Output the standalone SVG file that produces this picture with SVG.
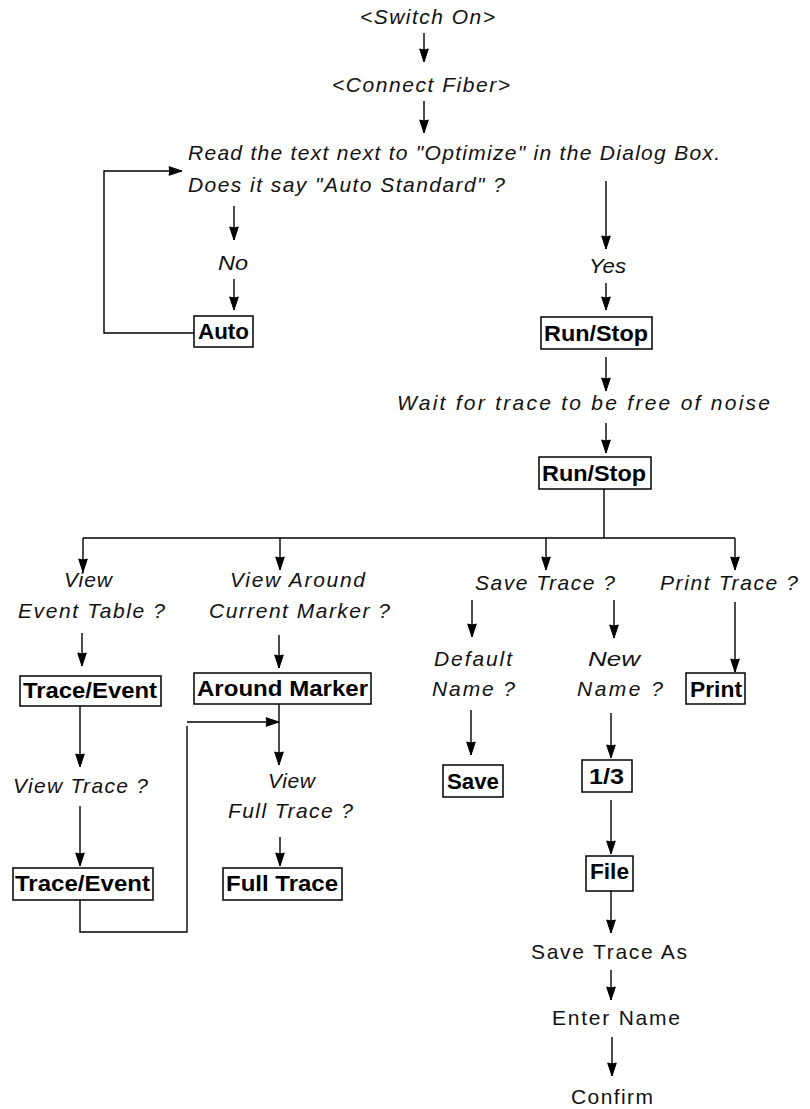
<svg xmlns="http://www.w3.org/2000/svg" width="810" height="1109" viewBox="0 0 810 1109">
<style>
.it{font-family:"Liberation Sans",Arial,sans-serif;font-style:italic;font-size:21px;fill:#111}
.up{font-family:"Liberation Sans",Arial,sans-serif;font-size:21px;fill:#111}
.bx{font-family:"Liberation Sans",Arial,sans-serif;font-weight:bold;font-size:22px;fill:#000}
.box{fill:#fff;stroke:#000;stroke-width:1.5}
.c{fill:none;stroke:#000;stroke-width:1.4}
.a{marker-end:url(#ah)}
</style>
<defs>
<marker id="ah" markerUnits="userSpaceOnUse" markerWidth="18" markerHeight="16" viewBox="-16 -8 18 16" refX="0" refY="0" orient="auto">
<path d="M0,0 L-13,-4.3 L-12,0 L-13,4.3 z" fill="#000" stroke="#000" stroke-width="1" stroke-linejoin="miter"/>
</marker>
</defs>
<rect width="810" height="1109" fill="#fff"/>
<g id="connectors">
<path class="c a" d="M424,33 V62"/>
<path class="c a" d="M424,101 V133"/>
<path class="c a" d="M194,333 H104 V171 H182"/>
<path class="c a" d="M234,206 V240"/>
<path class="c a" d="M234,279 V310"/>
<path class="c a" d="M606,181 V249"/>
<path class="c a" d="M606,283 V310"/>
<path class="c a" d="M606,357 V391"/>
<path class="c a" d="M606,423 V453"/>
<path class="c" d="M604,489 V538 M83,538 H735"/>
<path class="c a" d="M83,538 V572"/>
<path class="c a" d="M280,538 V570"/>
<path class="c a" d="M546,538 V570"/>
<path class="c a" d="M735,538 V570"/>
<path class="c a" d="M82,633 V666"/>
<path class="c a" d="M279,635 V668"/>
<path class="c a" d="M80,706 V767"/>
<path class="c a" d="M80,806 V866"/>
<path class="c" d="M80,900 V932 H187 V726"/>
<path class="c a" d="M187,722 H279"/>
<path class="c a" d="M279,704 V765"/>
<path class="c a" d="M280,837 V866"/>
<path class="c a" d="M472,600 V637"/>
<path class="c a" d="M614,600 V638"/>
<path class="c a" d="M735,602 V672"/>
<path class="c a" d="M471,710 V755"/>
<path class="c a" d="M611,713 V758"/>
<path class="c a" d="M611,800 V854"/>
<path class="c a" d="M611,891 V933"/>
<path class="c a" d="M611,970 V1000"/>
<path class="c a" d="M612,1037 V1076"/>
</g>
<g id="switch-on"><text class="it" x="360" y="24" textLength="135" lengthAdjust="spacing">&lt;Switch On&gt;</text></g>
<g id="connect-fiber"><text class="it" x="332" y="92" textLength="178" lengthAdjust="spacing">&lt;Connect Fiber&gt;</text></g>
<g id="read-text">
<text class="it" x="188" y="160" textLength="532" lengthAdjust="spacing">Read the text next to "Optimize" in the Dialog Box.</text>
<text class="it" x="188" y="192" textLength="317" lengthAdjust="spacing">Does it say "Auto Standard" ?</text>
</g>
<g id="no"><text class="it" x="218" y="270" textLength="30" lengthAdjust="spacingAndGlyphs">No</text></g>
<g id="auto"><rect class="box" x="194" y="316" width="59" height="31"/><text class="bx" x="198" y="339" textLength="51" lengthAdjust="spacingAndGlyphs">Auto</text></g>
<g id="yes"><text class="it" x="589" y="273" textLength="37" lengthAdjust="spacingAndGlyphs">Yes</text></g>
<g id="run-stop-1"><rect class="box" x="541" y="317" width="111" height="32"/><text class="bx" x="544" y="341" textLength="104" lengthAdjust="spacingAndGlyphs">Run/Stop</text></g>
<g id="wait"><text class="it" x="397" y="410" textLength="373" lengthAdjust="spacing">Wait for trace to be free of noise</text></g>
<g id="run-stop-2"><rect class="box" x="539" y="457" width="112" height="32"/><text class="bx" x="542" y="481" textLength="104" lengthAdjust="spacingAndGlyphs">Run/Stop</text></g>
<g id="view-event-table">
<text class="it" x="64" y="587" textLength="48" lengthAdjust="spacing">View</text>
<text class="it" x="18" y="618" textLength="147" lengthAdjust="spacing">Event Table ?</text>
</g>
<g id="trace-event-1"><rect class="box" x="20" y="676" width="141" height="30"/><text class="bx" x="23" y="698" textLength="134" lengthAdjust="spacingAndGlyphs">Trace/Event</text></g>
<g id="view-trace"><text class="it" x="13" y="793" textLength="135" lengthAdjust="spacing">View Trace ?</text></g>
<g id="trace-event-2"><rect class="box" x="13" y="868" width="140" height="32"/><text class="bx" x="15" y="891" textLength="135" lengthAdjust="spacingAndGlyphs">Trace/Event</text></g>
<g id="view-around-marker">
<text class="it" x="230" y="587" textLength="135" lengthAdjust="spacing">View Around</text>
<text class="it" x="209" y="618" textLength="181" lengthAdjust="spacing">Current Marker ?</text>
</g>
<g id="around-marker"><rect class="box" x="194" y="673" width="177" height="31"/><text class="bx" x="197" y="696" textLength="171" lengthAdjust="spacingAndGlyphs">Around Marker</text></g>
<g id="view-full-trace">
<text class="it" x="268" y="788" textLength="47" lengthAdjust="spacing">View</text>
<text class="it" x="228" y="818" textLength="125" lengthAdjust="spacing">Full Trace ?</text>
</g>
<g id="full-trace"><rect class="box" x="223" y="868" width="119" height="32"/><text class="bx" x="226" y="891" textLength="112" lengthAdjust="spacingAndGlyphs">Full Trace</text></g>
<g id="save-trace"><text class="it" x="475" y="590" textLength="140" lengthAdjust="spacing">Save Trace ?</text></g>
<g id="default-name">
<text class="it" x="434" y="666" textLength="78" lengthAdjust="spacing">Default</text>
<text class="it" x="432" y="696" textLength="83" lengthAdjust="spacing">Name ?</text>
</g>
<g id="save"><rect class="box" x="443" y="765" width="60" height="32"/><text class="bx" x="447" y="789" textLength="52" lengthAdjust="spacingAndGlyphs">Save</text></g>
<g id="new-name">
<text class="it" x="588" y="666" textLength="52" lengthAdjust="spacingAndGlyphs">New</text>
<text class="it" x="577" y="696" textLength="86" lengthAdjust="spacing">Name ?</text>
</g>
<g id="one-third"><rect class="box" x="582" y="760" width="50" height="32"/><text class="bx" x="589" y="784" textLength="35" lengthAdjust="spacingAndGlyphs">1/3</text></g>
<g id="file"><rect class="box" x="586" y="856" width="47" height="35"/><text class="bx" x="590" y="879" textLength="39" lengthAdjust="spacingAndGlyphs">File</text></g>
<g id="save-trace-as"><text class="up" x="531" y="959" textLength="156" lengthAdjust="spacing">Save Trace As</text></g>
<g id="enter-name"><text class="up" x="552" y="1025" textLength="128" lengthAdjust="spacing">Enter Name</text></g>
<g id="confirm"><text class="up" x="571" y="1104" textLength="82" lengthAdjust="spacing">Confirm</text></g>
<g id="print-trace"><text class="it" x="660" y="590" textLength="138" lengthAdjust="spacing">Print Trace ?</text></g>
<g id="print"><rect class="box" x="686" y="673" width="59" height="31"/><text class="bx" x="690" y="697" textLength="52" lengthAdjust="spacingAndGlyphs">Print</text></g>
</svg>
